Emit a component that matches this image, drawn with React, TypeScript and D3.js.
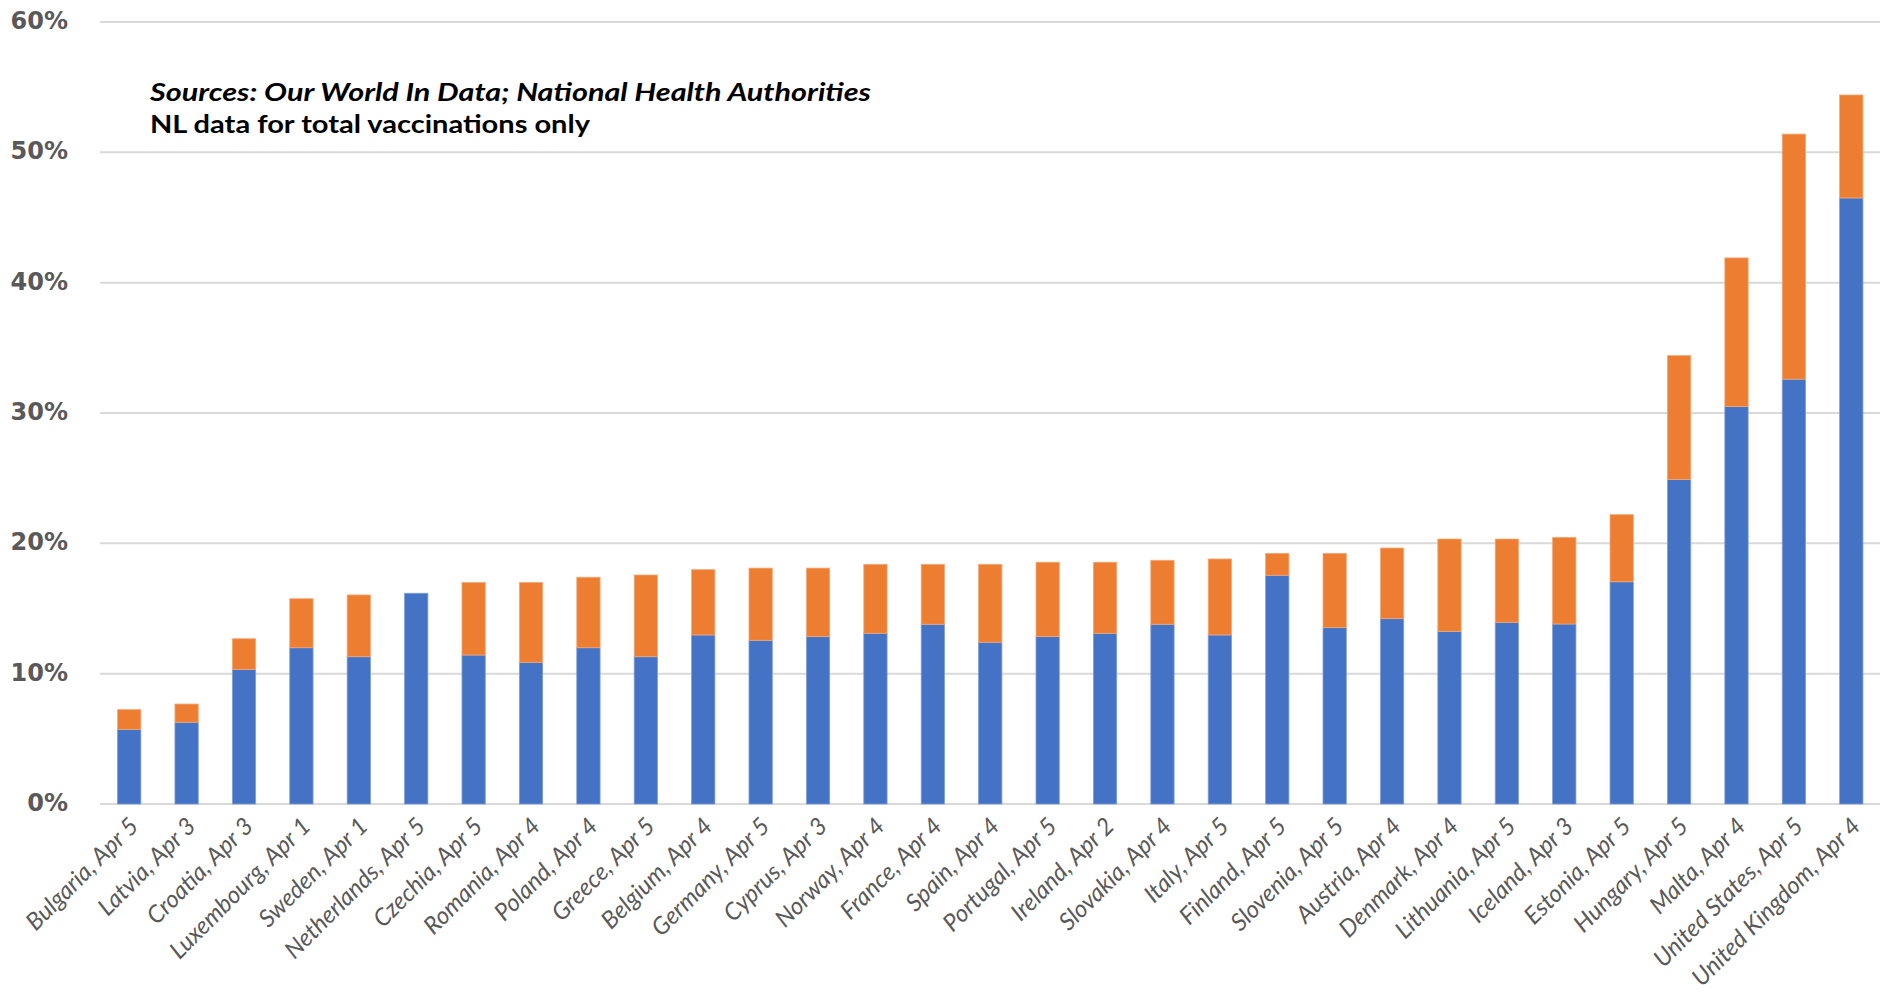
import React from "react";
import * as d3 from "d3";

const categories = [
  "Bulgaria, Apr 5", "Latvia, Apr 3", "Croatia, Apr 3", "Luxembourg, Apr 1", "Sweden, Apr 1",
  "Netherlands, Apr 5", "Czechia, Apr 5", "Romania, Apr 4", "Poland, Apr 4", "Greece, Apr 5",
  "Belgium, Apr 4", "Germany, Apr 5", "Cyprus, Apr 3", "Norway, Apr 4", "France, Apr 4",
  "Spain, Apr 4", "Portugal, Apr 5", "Ireland, Apr 2", "Slovakia, Apr 4", "Italy, Apr 5",
  "Finland, Apr 5", "Slovenia, Apr 5", "Austria, Apr 4", "Denmark, Apr 4", "Lithuania, Apr 5",
  "Iceland, Apr 3", "Estonia, Apr 5", "Hungary, Apr 5", "Malta, Apr 4", "United States, Apr 5",
  "United Kingdom, Apr 4",
];

// blue segment (%)
const blueValues = [
  5.73, 6.27, 10.33, 11.99, 11.3, 16.17, 11.43, 10.87, 11.99, 11.3,
  12.97, 12.56, 12.84, 13.1, 13.79, 12.41, 12.84, 13.1, 13.79, 12.97,
  17.55, 13.53, 14.22, 13.25, 13.94, 13.81, 17.05, 24.9, 30.5, 32.6, 46.5,
];

// orange segment stacked on top (%)
const orangeValues = [
  1.51, 1.4, 2.35, 3.76, 4.74, 0, 5.57, 6.13, 5.41, 6.27,
  5.01, 5.54, 5.26, 5.29, 4.6, 5.98, 5.71, 5.45, 4.91, 5.83,
  1.68, 5.7, 5.42, 7.08, 6.39, 6.65, 5.15, 9.5, 11.4, 18.8, 7.9,
];

const yTicks = [0, 10, 20, 30, 40, 50, 60];

const noteLines = [
  "Sources: Our World In Data; National Health Authorities",
  "NL data for total vaccinations only",
];

const W = 1881;
const H = 993;

export default function App() {
  const x = d3
    .scaleBand<string>()
    .domain(categories)
    .range([100.5, 1880])
    .paddingInner(0.594)
    .paddingOuter(0.297);
  const y = d3.scaleLinear().domain([0, 60]).range([804, 22]);

  const rows = categories.map((c, i) => ({ c, blue: blueValues[i], orange: orangeValues[i] }));
  const stack = d3.stack<any>().keys(["blue", "orange"])(rows as any);
  const colors: Record<string, string> = { blue: "#4472C4", orange: "#ED7D31" };
  const strokes: Record<string, string> = { blue: "#7f9fd8", orange: "#f3a878" };

  return (
    <svg
      width={W}
      height={H}
      style={{ position: "absolute", left: 0, top: 0, background: "#fff" }}
    >
      <rect x={0} y={0} width={W} height={H} fill="#fff" />
      {yTicks.map((t) => (
        <g key={t}>
          <line x1={100} x2={1880} y1={y(t)} y2={y(t)} stroke="#d9d9d9" strokeWidth={2} />
          <text
            x={68}
            y={y(t)}
            textAnchor="end"
            dominantBaseline="middle"
            fontFamily="DejaVu Sans"
            fontWeight="bold"
            fontSize={24}
            fill="#595959"
          >
            {t}%
          </text>
        </g>
      ))}
      {stack.map((layer) => (
        <g key={layer.key}>
          {layer.map((d: any, i: number) =>
            d[1] - d[0] > 0 ? (
              <rect
                key={i}
                x={x(categories[i])}
                width={x.bandwidth()}
                y={y(d[1])}
                height={y(d[0]) - y(d[1])}
                fill={colors[layer.key]}
                stroke={strokes[layer.key]}
                strokeWidth={0.8}
              />
            ) : null
          )}
        </g>
      ))}
      {categories.map((c) => {
        const cx = (x(c) as number) + x.bandwidth() / 2;
        return (
          <text
            key={c}
            transform={`translate(${cx - 3},${814}) rotate(-45)`}
            textAnchor="end"
            dominantBaseline="hanging"
            fontFamily="Lato"
            fontStyle="italic"
            fontSize={24}
            fill="#595959"
          >
            {c}
          </text>
        );
      })}
      <text
        x={150}
        y={101}
        fontFamily="Lato"
        fontWeight="bold"
        fontStyle="italic"
        fontSize={25}
        fill="#000"
        textLength={721}
        lengthAdjust="spacingAndGlyphs"
      >
        {noteLines[0]}
      </text>
      <text
        x={150}
        y={133}
        fontFamily="Lato"
        fontWeight="bold"
        fontSize={25}
        fill="#000"
        textLength={440}
        lengthAdjust="spacingAndGlyphs"
      >
        {noteLines[1]}
      </text>
    </svg>
  );
}
